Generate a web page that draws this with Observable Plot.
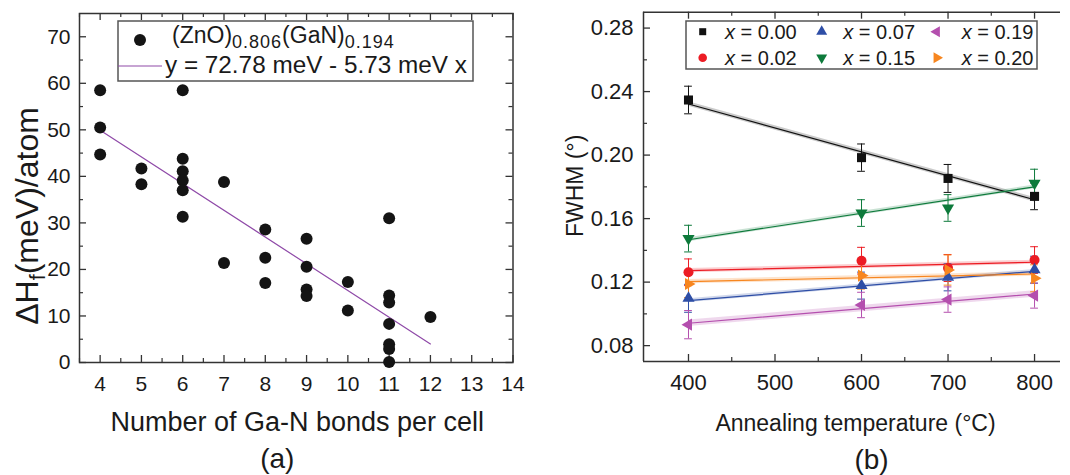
<!DOCTYPE html>
<html><head><meta charset="utf-8">
<script src="https://cdn.jsdelivr.net/npm/d3@7"></script>
<script src="https://cdn.jsdelivr.net/npm/@observablehq/plot@0.6"></script>
<style>
body{margin:0;background:#fff;}
#wrap{position:relative;width:1070px;height:475px;overflow:hidden;background:#fff;}
#a,#b{position:absolute;top:0;}
#a{left:0;} #b{left:535px;}
</style></head><body><div id="wrap"><div id="a"></div><div id="b"></div></div>
<script>
// ---------- Panel (a) data ----------
const bondsX   = [4,4,4, 5,5, 6,6,6,6,6,6, 7,7, 8,8,8, 9,9,9,9, 10,10, 11,11,11,11,11,11,11, 12];
const enthalpy = [58.5,50.5,44.7, 41.7,38.3, 58.5,43.8,41.1,39.1,37.0,31.3, 38.8,21.4, 28.6,22.5,17.1, 26.6,20.6,15.7,14.3, 17.3,11.2, 31.0,14.4,12.9,8.3,3.9,2.9,0.1, 9.8];
const fitBonds = [4, 12];
const fitEnthalpy = [49.9, 4.0];
const aXTicks = [4,5,6,7,8,9,10,11,12,13,14];
const aXMinor = [3.5,4.5,5.5,6.5,7.5,8.5,9.5,10.5,11.5,12.5,13.5];
const aYTicks = [0,10,20,30,40,50,60,70];
const aYMinor = [5,15,25,35,45,55,65];
const aLegendName = ["(ZnO)", "0.806", "(GaN)", "0.194"];
const aLegendFit = "y = 72.78 meV - 5.73 meV x";
const aXLabel = "Number of Ga-N bonds per cell";
const aYLabel = "ΔHf(meV)/atom";

// ---------- Panel (b) data ----------
const temps = [400, 600, 700, 800];
const fitTemps = [400, 800];
const seriesLabels = ["0.00", "0.02", "0.07", "0.15", "0.19", "0.20"];
const seriesColors = ["#111111", "#ec1c24", "#2e4ea6", "#0d7a3b", "#b44fae", "#f7861f"];
const fwhm000 = [0.2347, 0.1984, 0.1853, 0.1740];
const fwhm002 = [0.1262, 0.1335, 0.1289, 0.1339];
const fwhm007 = [0.1098, 0.1178, 0.1230, 0.1278];
const fwhm015 = [0.1474, 0.1635, 0.1667, 0.1822];
const fwhm019 = [0.0932, 0.1056, 0.1090, 0.1115];
const fwhm020 = [0.1188, 0.1241, 0.1276, 0.1224];
const err000 = [0.0087, 0.0086, 0.0088, 0.0084];
const err002 = [0.0084, 0.0084, 0.0085, 0.0084];
const err007 = [0.0088, 0.0085, 0.0085, 0.0085];
const err015 = [0.0084, 0.0084, 0.0084, 0.0089];
const err019 = [0.0089, 0.0080, 0.0080, 0.0079];
const err020 = [0.0085, 0.0085, 0.0095, 0.0085];
const fit000 = [0.2322, 0.1719];
const fit002 = [0.1272, 0.1325];
const fit007 = [0.1083, 0.1268];
const fit015 = [0.1467, 0.1800];
const fit019 = [0.0941, 0.1125];
const fit020 = [0.1203, 0.1251];
const band000 = [0.0014, 0.0014];
const band002 = [0.0013, 0.0013];
const band007 = [0.0012, 0.0012];
const band015 = [0.0012, 0.0012];
const band019 = [0.0020, 0.0020];
const band020 = [0.0014, 0.0014];
const bXTicks = [400, 500, 600, 700, 800];
const bXMinor = [450, 550, 650, 750];
const bYTicks = [0.08, 0.12, 0.16, 0.20, 0.24, 0.28];
const bYMinor = [0.10, 0.14, 0.18, 0.22, 0.26];
const bXLabel = "Annealing temperature (°C)";
const bYLabel = "FWHM (°)";

// ---------- helpers ----------
const FONT = "'Liberation Sans', Arial, Helvetica, sans-serif";
const AX = "#333";
function tri(angle) {
  return {draw(ctx, size) {
    const a = Math.sqrt(4 * size / Math.sqrt(3)), R = a / Math.sqrt(3);
    for (let k = 0; k < 3; k++) {
      const t = (angle + k * 120) * Math.PI / 180;
      const px = R * Math.sin(t), py = -R * Math.cos(t);
      if (k) ctx.lineTo(px, py); else ctx.moveTo(px, py);
    }
    ctx.closePath();
  }};
}
const symSquare = d3.symbolSquare, symCircle = d3.symbolCircle;
const seriesSymbols = [symSquare, symCircle, tri(0), tri(180), tri(270), tri(90)];
const seriesR = [5.1, 5.0, 4.5, 4.5, 4.5, 4.5];

// ---------- Panel (a) ----------
const aW = 535, aH = 475, aML = 79, aMR = 22.5, aMT = 13, aMB = 113;
const aPW = aW - aML - aMR, aPH = aH - aMT - aMB;
const aPoints = bondsX.map((x, i) => ({x, y: enthalpy[i]}));
const aFit = fitBonds.map((x, i) => ({x, y: fitEnthalpy[i]}));
const purple = "#8f4aa8";
const id = d => d;

const svgA = Plot.plot({
  width: aW, height: aH, marginLeft: aML, marginRight: aMR, marginTop: aMT, marginBottom: aMB,
  x: {domain: [3.5, 14]}, y: {domain: [0, 75]},
  style: {fontFamily: FONT, color: "#1a1a1a", background: "transparent", overflow: "visible"},
  marks: [
    Plot.frame({stroke: AX, strokeWidth: 1.5}),
    Plot.tickX(aXTicks, {x: id, insetTop: aPH - 7, stroke: AX, strokeWidth: 1.3}),
    Plot.tickX(aXTicks, {x: id, insetBottom: aPH - 7, stroke: AX, strokeWidth: 1.3}),
    Plot.tickX(aXMinor, {x: id, insetTop: aPH - 4, stroke: AX, strokeWidth: 1.2}),
    Plot.tickX(aXMinor, {x: id, insetBottom: aPH - 4, stroke: AX, strokeWidth: 1.2}),
    Plot.tickY(aYTicks, {y: id, insetRight: aPW - 7, stroke: AX, strokeWidth: 1.3}),
    Plot.tickY(aYTicks, {y: id, insetLeft: aPW - 7, stroke: AX, strokeWidth: 1.3}),
    Plot.tickY(aYMinor, {y: id, insetRight: aPW - 4, stroke: AX, strokeWidth: 1.2}),
    Plot.tickY(aYMinor, {y: id, insetLeft: aPW - 4, stroke: AX, strokeWidth: 1.2}),
    Plot.axisX(aXTicks, {tickSize: 0, tickPadding: 14, fontSize: 21, label: null}),
    Plot.axisY(aYTicks, {tickSize: 0, tickPadding: 9, fontSize: 21, label: null}),
    Plot.line(aFit, {x: "x", y: "y", stroke: purple, strokeWidth: 1.2}),
    Plot.dot(aPoints, {x: "x", y: "y", r: 6, fill: "#141414", stroke: "none"}),
    Plot.text([aYLabel], {text: id, frameAnchor: "left", textAnchor: "middle", lineAnchor: "middle", rotate: -90, dx: -52, dy: 28, fontSize: 32}),
    Plot.text([aXLabel], {text: id, frameAnchor: "bottom", textAnchor: "middle", lineAnchor: "middle", dx: 1, dy: 60, fontSize: 27}),
    Plot.text(["(a)"], {text: id, frameAnchor: "bottom", textAnchor: "middle", lineAnchor: "middle", dx: -19, dy: 97, fontSize: 28})
  ]
});
document.getElementById("a").appendChild(svgA);

// subscript f in y label
d3.select(svgA).selectAll("text").filter(function() { return this.textContent === aYLabel; }).each(function() {
  const t = d3.select(this); t.text("");
  t.append("tspan").text("ΔH");
  t.append("tspan").attr("font-size", "0.68em").attr("dy", "0.32em").text("f");
  t.append("tspan").attr("dy", "-0.22em").text("(meV)/atom");
});

// legend (a)
{
  const g = d3.select(svgA).append("g").attr("font-family", FONT).attr("fill", "#1a1a1a").attr("text-anchor", "start");
  g.append("rect").attr("x", 118).attr("y", 21).attr("width", 355).attr("height", 60)
    .attr("fill", "#fff").attr("stroke", "#555").attr("stroke-width", 1.5);
  g.append("circle").attr("cx", 140).attr("cy", 40).attr("r", 6).attr("fill", "#141414");
  const t1 = g.append("text").attr("x", 172).attr("y", 43).attr("font-size", 23).attr("text-anchor", "start");
  t1.append("tspan").text(aLegendName[0]);
  t1.append("tspan").attr("font-size", 18).attr("letter-spacing", 1).attr("dy", 5).text(aLegendName[1]);
  t1.append("tspan").attr("dy", -5).text(aLegendName[2]);
  t1.append("tspan").attr("font-size", 18).attr("letter-spacing", 1).attr("dy", 5).text(aLegendName[3]);
  g.append("line").attr("x1", 118).attr("x2", 162).attr("y1", 66).attr("y2", 66).attr("stroke", purple).attr("stroke-width", 1.2);
  g.append("text").attr("x", 165).attr("y", 73).attr("font-size", 24.3).attr("text-anchor", "start").text(aLegendFit);
}

// ---------- Panel (b) ----------
const bW = 535, bH = 475, bML = 108, bMR = 10, bMT = 11.7, bMB = 114;
const bPW = bW - bML - bMR, bPH = bH - bMT - bMB;
const fwhmAll = [fwhm000, fwhm002, fwhm007, fwhm015, fwhm019, fwhm020];
const errAll = [err000, err002, err007, err015, err019, err020];
const fitAll = [fit000, fit002, fit007, fit015, fit019, fit020];
const bandAll = [band000, band002, band007, band015, band019, band020];
const capHalf = 4.5;

const seriesMarks = [];
seriesLabels.forEach((lab, s) => {
  const col = seriesColors[s];
  const band = fitTemps.map((t, i) => ({t, lo: fitAll[s][i] - bandAll[s][i], hi: fitAll[s][i] + bandAll[s][i]}));
  seriesMarks.push(Plot.areaY(band, {x: "t", y1: "lo", y2: "hi", fill: col, fillOpacity: 0.22}));
});
seriesLabels.forEach((lab, s) => {
  const col = seriesColors[s];
  const fit = fitTemps.map((t, i) => ({t, v: fitAll[s][i]}));
  seriesMarks.push(Plot.line(fit, {x: "t", y: "v", stroke: col, strokeWidth: 1.2}));
});
seriesLabels.forEach((lab, s) => {
  const col = seriesColors[s];
  const pts = temps.map((t, i) => ({t, v: fwhmAll[s][i], e: errAll[s][i]}));
  seriesMarks.push(
    Plot.ruleX(pts, {x: "t", y1: d => d.v - d.e, y2: d => d.v + d.e, stroke: col, strokeWidth: 1}),
    Plot.ruleY(pts, {y: d => d.v + d.e, x1: d => d.t - capHalf, x2: d => d.t + capHalf, stroke: col, strokeWidth: 1}),
    Plot.ruleY(pts, {y: d => d.v - d.e, x1: d => d.t - capHalf, x2: d => d.t + capHalf, stroke: col, strokeWidth: 1})
  );
});
seriesLabels.forEach((lab, s) => {
  const col = seriesColors[s];
  const pts = temps.map((t, i) => ({t, v: fwhmAll[s][i]}));
  seriesMarks.push(Plot.dot(pts, {x: "t", y: "v", symbol: seriesSymbols[s], r: seriesR[s], fill: col, stroke: "none"}));
});

const svgB = Plot.plot({
  width: bW, height: bH, marginLeft: bML, marginRight: bMR, marginTop: bMT, marginBottom: bMB,
  x: {domain: [348, 830]}, y: {domain: [0.07, 0.29]},
  style: {fontFamily: FONT, color: "#1a1a1a", background: "transparent", overflow: "visible"},
  marks: [
    Plot.ruleY([0.07, 0.29], {stroke: AX, strokeWidth: 1.5}),
    Plot.ruleX([348], {stroke: AX, strokeWidth: 1.5}),
    Plot.tickX(bXTicks, {x: id, insetTop: bPH - 7, stroke: AX, strokeWidth: 1.3}),
    Plot.tickX(bXTicks, {x: id, insetBottom: bPH - 7, stroke: AX, strokeWidth: 1.3}),
    Plot.tickX(bXMinor, {x: id, insetTop: bPH - 4, stroke: AX, strokeWidth: 1.2}),
    Plot.tickX(bXMinor, {x: id, insetBottom: bPH - 4, stroke: AX, strokeWidth: 1.2}),
    Plot.tickY(bYTicks, {y: id, insetRight: bPW - 7, stroke: AX, strokeWidth: 1.3}),
    Plot.tickY(bYMinor, {y: id, insetRight: bPW - 4, stroke: AX, strokeWidth: 1.2}),
    Plot.axisX(bXTicks, {tickSize: 0, tickPadding: 13, fontSize: 22, label: null}),
    Plot.axisY(bYTicks, {tickSize: 0, tickPadding: 10, fontSize: 22, label: null, tickFormat: d3.format(".2f")}),
    ...seriesMarks,
    Plot.text([bYLabel], {text: id, frameAnchor: "left", textAnchor: "middle", lineAnchor: "middle", rotate: -90, dx: -67.5, dy: -1, fontSize: 23}),
    Plot.text([bXLabel], {text: id, frameAnchor: "bottom", textAnchor: "middle", lineAnchor: "middle", dx: 3.5, dy: 62.5, fontSize: 23}),
    Plot.text(["(b)"], {text: id, frameAnchor: "bottom", textAnchor: "middle", lineAnchor: "middle", dx: 19.5, dy: 99, fontSize: 28})
  ]
});
document.getElementById("b").appendChild(svgB);

// legend (b)
{
  const g = d3.select(svgB).append("g").attr("font-family", FONT).attr("fill", "#1a1a1a").attr("text-anchor", "start");
  g.append("rect").attr("x", 151).attr("y", 21).attr("width", 351).attr("height", 48)
    .attr("fill", "#fff").attr("stroke", "#555").attr("stroke-width", 1.5);
  const order = [0, 2, 4, 1, 3, 5];
  const colSym = [167.7, 286.7, 401.7], colTxt = [190, 308.3, 426.7], rowY = [31.7, 57.7];
  const legSize = [49, 58, 52, 52, 52, 52];
  order.forEach((s, k) => {
    const c = k % 3, r = Math.floor(k / 3);
    g.append("path").attr("d", d3.symbol().type(seriesSymbols[s]).size(legSize[s])())
      .attr("transform", `translate(${colSym[c]},${rowY[r]})`).attr("fill", seriesColors[s]);
    const t = g.append("text").attr("x", colTxt[c]).attr("y", rowY[r] + 7).attr("font-size", 20).attr("text-anchor", "start");
    t.append("tspan").attr("font-style", "italic").text("x");
    t.append("tspan").text(" = " + seriesLabels[s]);
  });
}
</script></body></html>
